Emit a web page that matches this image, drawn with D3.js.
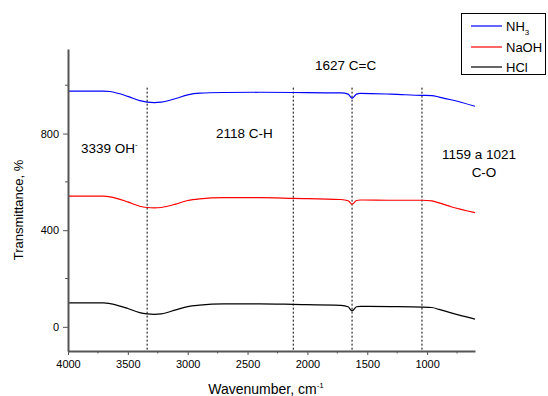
<!DOCTYPE html>
<html>
<head>
<meta charset="utf-8">
<script src="https://cdn.jsdelivr.net/npm/d3@7"></script>
<style>
  body { margin: 0; background: #fff; }
  svg { font-family: "Liberation Sans", Arial, sans-serif; }
</style>
</head>
<body>
<div id="chart"></div>
<script>
// wavenumbers (cm-1) at which the spectra were read
const wavenumbers = [4000, 3700, 3650, 3500, 3400, 3339, 3280, 3220, 3100, 3000, 2900, 2700, 2400, 2118, 1720, 1660, 1627, 1590, 1560, 1300, 1043, 960, 900, 800, 600];
const nh3 = [976, 976, 974, 954, 936, 930, 928, 930, 945, 960, 967, 970, 971, 970, 968, 963, 946, 963, 966, 963, 958, 957, 951, 940, 913];
const naoh = [541, 541, 538, 517, 499, 494, 492, 494, 508, 523, 530, 535, 535, 532, 527, 522, 508, 523, 525, 524, 524, 521, 513, 497, 473];
const hcl = [99, 99, 96, 76, 59, 54, 52, 54, 70, 84, 90, 95, 95, 93, 89, 83, 66, 83, 85, 84, 82, 80, 72, 58, 32];

const seriesNames = ['NH3', 'NaOH', 'HCl'];
const seriesColors = ['#0000ff', '#ff0000', '#000000'];

// dotted marker lines
const markerWn = [3339, 2118, 1627, 1043];
const markerTop = 990;

const xTicks = [4000, 3500, 3000, 2500, 2000, 1500, 1000];
const xMinor = [3750, 3250, 2750, 2250, 1750, 1250, 750];
const yTicks = [0, 400, 800];
const yMinor = [200, 600, 1000];

const width = 548, height = 396;
const svg = d3.select('#chart').append('svg').attr('width', width).attr('height', height);

const x = d3.scaleLinear().domain([4000, 600]).range([68, 475]);
const y = d3.scaleLinear().domain([-100, 1150]).range([351, 49]);

// dotted lines
svg.append('g').selectAll('line').data(markerWn).join('line')
  .attr('x1', d => x(d)).attr('x2', d => x(d))
  .attr('y1', y(markerTop)).attr('y2', y(-100))
  .attr('stroke', '#000').attr('stroke-width', 1).attr('stroke-dasharray', '2,2');

// spectra
const line = d3.line().x(d => x(d[0])).y(d => y(d[1])).curve(d3.curveMonotoneX);
const allSeries = [nh3, naoh, hcl];
allSeries.forEach((vals, i) => {
  svg.append('path')
    .datum(wavenumbers.map((w, j) => [w, vals[j]]))
    .attr('d', line)
    .attr('fill', 'none')
    .attr('stroke', seriesColors[i])
    .attr('stroke-width', 1.2);
});

// axes
const axisColor = '#555';
const gx = svg.append('g').attr('transform', `translate(0,${y(-100)})`)
  .call(d3.axisBottom(x).tickValues(xTicks).tickFormat(d3.format('d')).tickSize(4).tickSizeOuter(0).tickPadding(5));
gx.append('g').selectAll('line').data(xMinor).join('line')
  .attr('x1', d => x(d)).attr('x2', d => x(d)).attr('y1', 0).attr('y2', 2.5)
  .attr('stroke', axisColor).attr('stroke-width', 1);

const gy = svg.append('g').attr('transform', `translate(${x(4000)},0)`)
  .call(d3.axisLeft(y).tickValues(yTicks).tickFormat(d3.format('d')).tickSize(5).tickSizeOuter(0).tickPadding(4));
gy.append('g').selectAll('line').data(yMinor).join('line')
  .attr('y1', d => y(d)).attr('y2', d => y(d)).attr('x1', 0).attr('x2', -3)
  .attr('stroke', axisColor).attr('stroke-width', 1);

[gx, gy].forEach(g => {
  g.select('.domain').attr('stroke', axisColor).attr('stroke-width', 2);
  g.selectAll('.tick line').attr('stroke', axisColor).attr('stroke-width', 1);
  g.selectAll('.tick text').attr('fill', '#000').style('font-size', '11px')
    .style('font-family', '"Liberation Sans", Arial, sans-serif');
});

// axis titles
const xt = svg.append('text').attr('x', 266).attr('y', 394).attr('text-anchor', 'middle')
  .style('font-size', '14px').attr('fill', '#000');
xt.append('tspan').text('Wavenumber, cm');
xt.append('tspan').attr('dy', -6).style('font-size', '8px').text('-1');

svg.append('text').attr('transform', 'translate(23,210) rotate(-90)')
  .attr('text-anchor', 'middle').style('font-size', '13px').attr('fill', '#000')
  .text('Transmittance, %');

// annotations
const ann = svg.append('g').style('font-size', '13.5px').attr('fill', '#000');
const oh = ann.append('text').attr('x', 81).attr('y', 153);
oh.append('tspan').text('3339 OH');
oh.append('tspan').attr('dy', -6).style('font-size', '8px').text('-');
ann.append('text').attr('x', 216).attr('y', 138).text('2118 C-H');
ann.append('text').attr('x', 315).attr('y', 70).text('1627 C=C');
ann.append('text').attr('x', 479).attr('y', 159).attr('text-anchor', 'middle').text('1159 a 1021');
ann.append('text').attr('x', 484).attr('y', 177).attr('text-anchor', 'middle').text('C-O');

// legend
const lg = svg.append('g');
lg.append('rect').attr('x', 461.5).attr('y', 13.5).attr('width', 84).attr('height', 61)
  .attr('fill', '#fff').attr('stroke', '#000').attr('stroke-width', 1);
const legendY = [26, 47, 67];
seriesNames.forEach((name, i) => {
  lg.append('line').attr('x1', 471).attr('x2', 502).attr('y1', legendY[i]).attr('y2', legendY[i])
    .attr('stroke', seriesColors[i]).attr('stroke-width', 1.2);
  const t = lg.append('text').attr('x', 506).attr('y', legendY[i] + 5)
    .style('font-size', '13px').attr('fill', '#000');
  if (name === 'NH3') {
    t.append('tspan').text('NH');
    t.append('tspan').attr('dy', 4).style('font-size', '8px').text('3');
  } else {
    t.text(name);
  }
});
</script>
</body>
</html>
